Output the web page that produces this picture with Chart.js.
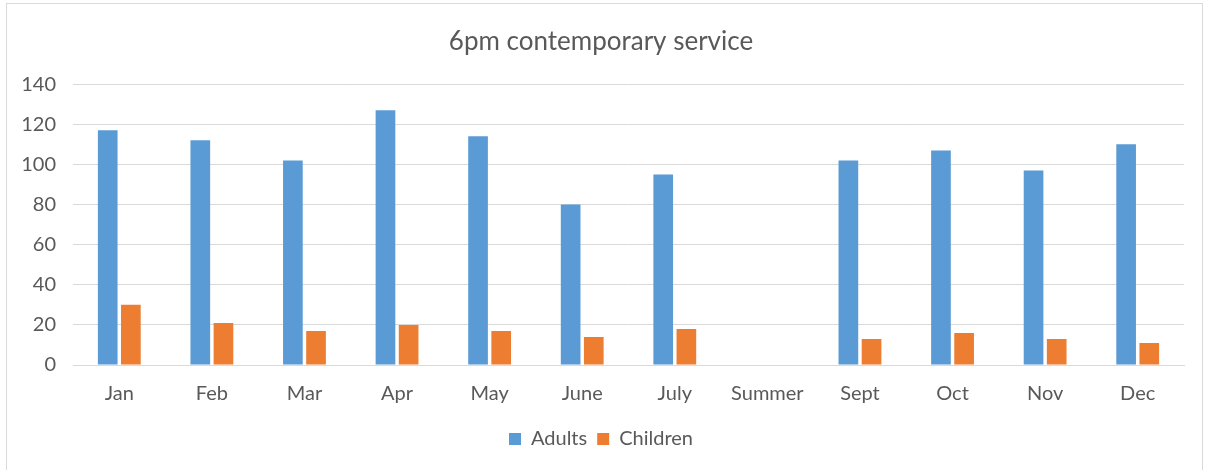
<!DOCTYPE html>
<html>
<head>
<meta charset="utf-8">
<script src="https://cdn.jsdelivr.net/npm/chart.js"></script>
<style>
  body { margin: 0; background: #fff; }
  #wrap { position: absolute; left: 6px; top: 3px; width: 1197px; height: 470px; border: 1px solid #d9d9d9; border-bottom: none; box-sizing: border-box; }
  #box { position: absolute; left: 0; top: 0; width: 1207px; height: 470px; }
</style>
</head>
<body>
<div id="wrap"></div>
<div id="box"><canvas id="myChart"></canvas></div>
<script>
const months = ['Jan', 'Feb', 'Mar', 'Apr', 'May', 'June', 'July', 'Summer', 'Sept', 'Oct', 'Nov', 'Dec'];
const adults = [117, 112, 102, 127, 114, 80, 95, null, 102, 107, 97, 110];
const children = [30, 21, 17, 20, 17, 14, 18, null, 13, 16, 13, 11];

const textColor = '#595959';
const fontFamily = 'Lato, "Open Sans", sans-serif';

new Chart(document.getElementById('myChart'), {
    type: 'bar',
    data: {
        labels: months,
        datasets: [
            { label: 'Adults', data: adults, backgroundColor: '#5b9bd5', categoryPercentage: 0.5, barPercentage: 0.85 },
            { label: 'Children', data: children, backgroundColor: '#ed7d31', categoryPercentage: 0.5, barPercentage: 0.85 }
        ]
    },
    options: {
        responsive: true,
        maintainAspectRatio: false,
        animation: false,
        layout: { padding: { left: 18, right: 23, top: 16, bottom: 11 } },
        plugins: {
            title: {
                display: true,
                text: '6pm contemporary service',
                color: textColor,
                font: { family: fontFamily, size: 26, weight: 'normal' },
                padding: { top: 10, bottom: 27 }
            },
            legend: {
                position: 'bottom',
                labels: {
                    color: textColor,
                    font: { family: fontFamily, size: 20 },
                    boxWidth: 12,
                    boxHeight: 12,
                    padding: 10
                }
            },
            tooltip: { enabled: false }
        },
        scales: {
            x: {
                grid: { display: false },
                border: { color: '#d9d9d9' },
                ticks: { color: textColor, font: { family: fontFamily, size: 20 }, padding: 9 },
                // leave a little room between the month labels and the legend
                afterFit: (scale) => { scale.height += 4; }
            },
            y: {
                min: 0,
                max: 140,
                ticks: { stepSize: 20, color: textColor, font: { family: fontFamily, size: 20 }, padding: 17 },
                grid: { color: '#d9d9d9', drawTicks: false },
                border: { display: false },
                afterFit: (scale) => { scale.width = 55; }
            }
        }
    }
});
</script>
</body>
</html>
